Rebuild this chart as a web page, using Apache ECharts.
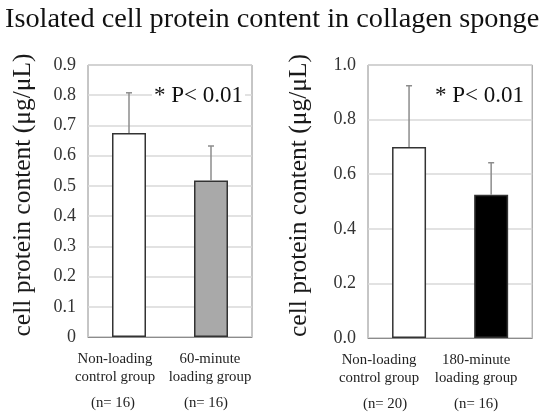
<!doctype html>
<html lang="en">
<head>
  <meta charset="UTF-8">
  <script src="https://cdn.jsdelivr.net/npm/echarts@6/dist/echarts.min.js"></script>
  <title>Cell protein content</title>
  <style type="text/css">
    html, body {
      width: 100%;
      height: 100%;
      margin: 0;
      padding: 0;
      background-color: #ffffff;
    }

    #canvas {
      width: 550px;
      height: 416px;
    }
  </style>
</head>
<body>
<div id="canvas"></div>

<script type="text/javascript">
  // left panel: 60-minute loading
  const categoriesA = ['Non-loading\ncontrol group', '60-minute\nloading group']
  const countsA = ['(n= 16)', '(n= 16)']
  const meansA = [0.675, 0.518]
  const sdsA = [0.133, 0.114]
  const ticksA = { min: 0, max: 0.9, interval: 0.1 }

  // right panel: 180-minute loading
  const categoriesB = ['Non-loading\ncontrol group', '180-minute\nloading group']
  const countsB = ['(n= 20)', '(n= 16)']
  const meansB = [0.70, 0.525]
  const sdsB = [0.224, 0.117]
  const ticksB = { min: 0, max: 1.0, interval: 0.2 }

  const barColorsA = ['#ffffff', '#a9a9a9']
  const barColorsB = ['#ffffff', '#000000']

  const font = '"Liberation Serif", "DejaVu Serif", serif'

  const canvas = document.getElementById('canvas')
  const chart = echarts.init(canvas)

  // shift labels sideways a bit, like the original figure
  const shifted = (labels, shifts) => labels.map((v, i) => ({
    value: v,
    textStyle: { padding: [0, Math.max(-shifts[i], 0) * 2, 0, Math.max(shifts[i], 0) * 2] }
  }))

  const errorSeries = (idx, means, sds) => ({
    type: 'custom',
    xAxisIndex: idx * 2,
    yAxisIndex: idx,
    z: 5,
    data: means.map((m, i) => [i, m, m + sds[i]]),
    renderItem: (params, api) => {
      const base = api.coord([api.value(0), api.value(1)])
      const top = api.coord([api.value(0), api.value(2)])
      const style = { stroke: '#8c8c8c', lineWidth: 1.5 }
      return {
        type: 'group',
        children: [
          { type: 'line', shape: { x1: base[0], y1: base[1], x2: top[0], y2: top[1] }, style },
          { type: 'line', shape: { x1: top[0] - 3, y1: top[1], x2: top[0] + 3, y2: top[1] }, style }
        ]
      }
    }
  })

  const barSeries = (idx, means, colors) => ({
    type: 'bar',
    xAxisIndex: idx * 2,
    yAxisIndex: idx,
    barWidth: 34,
    data: means.map((m, i) => ({
      value: m,
      itemStyle: { color: colors[i], borderColor: '#333333', borderWidth: 1.5 }
    }))
  })

  const catAxis = (idx, labels, shifts) => ({
    type: 'category',
    gridIndex: idx,
    data: shifted(labels, shifts),
    axisTick: { show: false },
    axisLine: { lineStyle: { color: '#8c8c8c' } },
    axisLabel: {
      interval: 0,
      margin: 13,
      fontFamily: font,
      fontSize: 14.8,
      lineHeight: 18,
      color: '#222222'
    }
  })

  const countAxis = (idx, labels, shifts) => ({
    type: 'category',
    gridIndex: idx,
    position: 'bottom',
    data: shifted(labels, shifts),
    axisTick: { show: false },
    axisLine: { show: false },
    axisLabel: {
      interval: 0,
      margin: 59,
      fontFamily: font,
      fontSize: 14.8,
      color: '#222222'
    }
  })

  const valAxis = (idx, ticks, gap) => ({
    type: 'value',
    gridIndex: idx,
    min: ticks.min,
    max: ticks.max,
    interval: ticks.interval,
    name: 'cell protein content (μg/μL)',
    nameLocation: 'middle',
    nameGap: gap,
    nameTextStyle: { fontFamily: font, fontSize: 25.5, color: '#1a1a1a', padding: [0, 0, 0, 12] },
    axisLine: { show: false },
    axisTick: { show: false },
    splitLine: { lineStyle: { color: '#d9d9d9', width: 1.5 } },
    axisLabel: {
      margin: 12,
      fontFamily: font,
      fontSize: 18,
      color: '#333333',
      formatter: v => idx === 0 ? (v === 0 ? '0' : v.toFixed(1)) : v.toFixed(1)
    }
  })

  chart.setOption({
    animation: false,
    title: {
      text: 'Isolated cell protein content in collagen sponge',
      left: 0,
      top: 1,
      textStyle: { fontFamily: font, fontSize: 28.3, fontWeight: 'normal', color: '#111111' }
    },
    grid: [
      { left: 88, top: 65, width: 164, height: 272, show: true, borderColor: '#8c8c8c', borderWidth: 1 },
      { left: 368, top: 65, width: 166, height: 273, show: true, borderColor: '#8c8c8c', borderWidth: 1 }
    ],
    xAxis: [
      catAxis(0, categoriesA, [-14, -1]),
      countAxis(0, countsA, [-16, -5]),
      catAxis(1, categoriesB, [-30, -15]),
      countAxis(1, countsB, [-24, -15])
    ],
    yAxis: [
      valAxis(0, ticksA, 52),
      valAxis(1, ticksB, 56)
    ],
    graphic: [
      {
        type: 'text', left: 152, top: 84, z: 10,
        style: { text: '* P< 0.01', font: '23px "Liberation Serif", serif', fill: '#111111', backgroundColor: '#ffffff', padding: [0, 2] }
      },
      {
        type: 'text', left: 433, top: 84, z: 10,
        style: { text: '* P< 0.01', font: '23px "Liberation Serif", serif', fill: '#111111', backgroundColor: '#ffffff', padding: [0, 2] }
      }
    ],
    series: [
      barSeries(0, meansA, barColorsA),
      errorSeries(0, meansA, sdsA),
      barSeries(1, meansB, barColorsB),
      errorSeries(1, meansB, sdsB)
    ]
  })
</script>
</body>
</html>
